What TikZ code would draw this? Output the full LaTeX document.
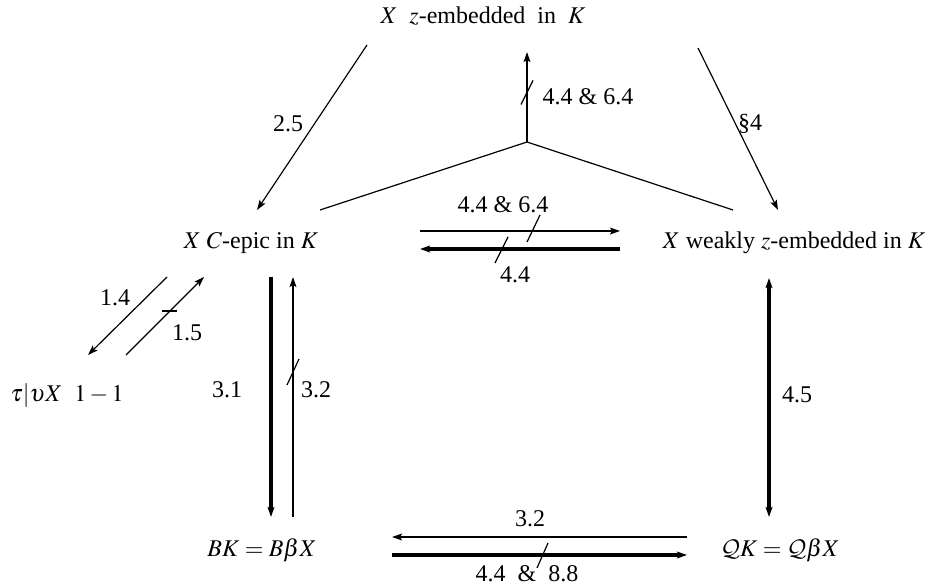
\documentclass[tikz,border=0pt]{standalone}
\usepackage{mathptmx}
\usepackage[no-math]{fontspec}
\setmainfont{Liberation Serif}
\DeclareMathAlphabet{\mathcal}{OMS}{cmsy}{m}{n}
\usetikzlibrary{arrows.meta,calc}

\tikzset{
  lbl/.style={inner sep=0pt},
  thinline/.style={line width=0.6pt},
  midline/.style={line width=0.9pt},
  thickline/.style={line width=1.6pt},
  tip/.style={-{Stealth[length=5pt,width=3.4pt,inset=1pt]}},
  slashmark/.style={line width=0.6pt},
}

\begin{document}
\begin{tikzpicture}[x=0.5pt,y=-0.5pt,font=\fontsize{12}{14.4}\selectfont]
  \useasboundingbox (0,0) rectangle (929,587);

  % Aussagen
  \node[lbl] (top)    at (483,16)  {$X$\ \ $z$-embedded\ \ in\ \ $K$};
  \node[lbl] (cepic)  at (251,243) {$X$ $C$-epic in $K$};
  \node[lbl] (weakly) at (794,243) {$X$ weakly $z$-embedded in $K$};
  \node[lbl] (tau)    at (67,396)  {$\tau|\upsilon X\ \ 1-1$};
  \node[lbl] (bk)     at (262,550) {$BK=B\beta X$};
  \node[lbl] (qk)     at (780,550) {$\mathcal{Q}K=\mathcal{Q}\beta X$};

  % Endpunkte
  \coordinate (fork) at (527,142);
  \coordinate (forktop) at (527,52);
  \coordinate (forkl) at (320,210);
  \coordinate (forkr) at (733,210);

  % oben: schraege Pfeile
  \draw[thinline,tip] (367,45) coordinate (s25) -- (257,210) coordinate (e25);
  \draw[thinline,tip] (698,48) coordinate (s4) -- (778,210) coordinate (e4);
  \node[lbl] (l25) at (288,124) {2.5};
  \node[lbl] (l4)  at (750,124) {\S4};

  % Gabel
  \draw[thinline] (forkl) -- (fork) -- (forkr);
  \draw[midline,tip] (fork) -- (forktop);
  \draw[slashmark] ($(fork)!0.55!(forktop)$) +(6,-12) -- +(-6,12);
  \node[lbl] (lfork) at (588,97) {4.4 \& 6.4};

  % Mitte: C-epic <-> weakly
  \coordinate (mua) at (420,231); \coordinate (mub) at (620,231);
  \coordinate (mla) at (620,249); \coordinate (mlb) at (420,249);
  \draw[midline,tip] (mua) -- (mub);
  \draw[thickline,tip] (mla) -- (mlb);
  \draw[slashmark] (540,215) -- (527,242);
  \draw[slashmark] (508,237) -- (495,263);
  \node[lbl] (lmu) at (503,205) {4.4 \& 6.4};
  \node[lbl] (lml) at (515,275) {4.4};

  % links: C-epic <-> tau
  \coordinate (da) at (167,277); \coordinate (db) at (88,355);
  \coordinate (dc) at (126,355); \coordinate (dd) at (204,277);
  \draw[thinline,tip] (da) -- (db);
  \draw[thinline,tip] (dc) -- (dd);
  \draw[slashmark,line width=1pt] (162,311) -- (177,311);
  \node[lbl] (l14) at (115,298) {1.4};
  \node[lbl] (l15) at (187,333) {1.5};

  % C-epic <-> BK
  \coordinate (va) at (271,277); \coordinate (vb) at (271,517);
  \coordinate (vc) at (293,517); \coordinate (vd) at (293,277);
  \draw[thickline,tip] (va) -- (vb);
  \draw[midline,tip] (vc) -- (vd);
  \draw[slashmark] (287,385) -- (299,359);
  \node[lbl] (l31) at (227,390) {3.1};
  \node[lbl] (l32) at (316,390) {3.2};

  % weakly <-> QK
  \coordinate (ra) at (769,278); \coordinate (rb) at (769,517);
  \draw[thickline,{Stealth[length=5pt,width=3.4pt,inset=1pt]}-{Stealth[length=5pt,width=3.4pt,inset=1pt]}] (ra) -- (rb);
  \node[lbl] (l45) at (797,395) {4.5};

  % unten: BK <-> QK
  \coordinate (ba) at (687,537); \coordinate (bb) at (392,537);
  \coordinate (bc) at (392,555); \coordinate (bd) at (687,555);
  \draw[midline,tip] (ba) -- (bb);
  \draw[thickline,tip] (bc) -- (bd);
  \draw[slashmark] (548,543) -- (537,568);
  \node[lbl] (lbu) at (530,519) {3.2};
  \node[lbl] (lbl) at (527,574) {4.4 \ \& \ 8.8};
\end{tikzpicture}
\end{document}
